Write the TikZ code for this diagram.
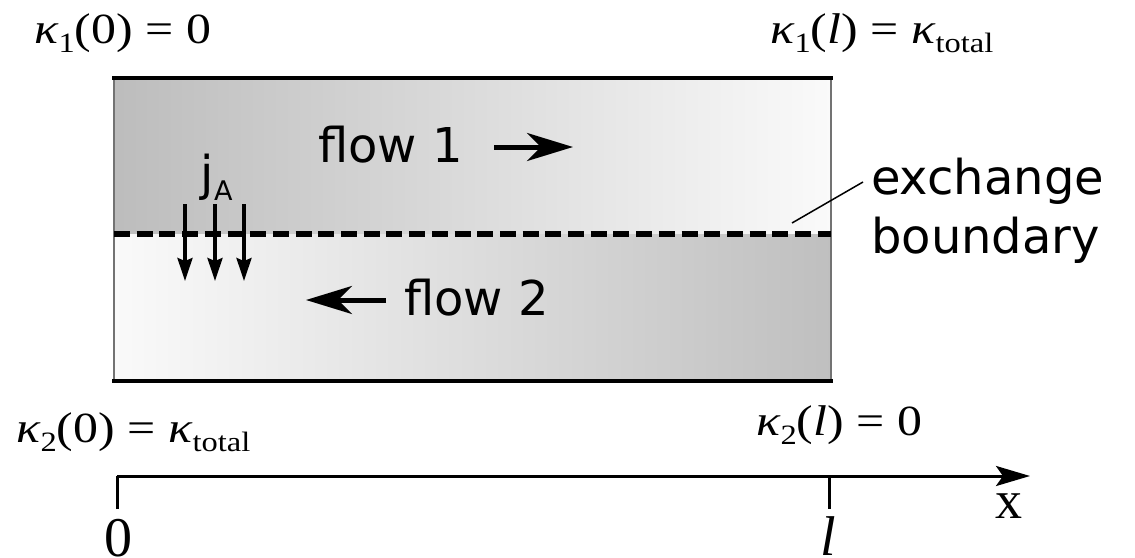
\documentclass[tikz,border=0pt]{standalone}
\usepackage{fontspec}
\setmainfont{DejaVu Sans}
\newfontfamily\tms{Liberation Serif}
\usetikzlibrary{arrows.meta}
\newcommand\msub[1]{\raisebox{-0.22em}{\fontsize{28}{30}\selectfont #1}}
\newcommand\kap{\textit{κ}}
\newcommand\mlab[1]{\scalebox{1.16}[1]{#1}}
\tikzset{
  mathlbl/.style={inner sep=0pt, anchor=base west, font=\tms\fontsize{43}{48}\selectfont},
  sanslbl/.style={inner sep=0pt, anchor=base west, font=\fontsize{48}{56}\selectfont},
  flowarrow/.style={line width=5pt, -{Stealth[length=46pt, width=28pt, inset=14pt]}},
  fluxarrow/.style={line width=3.2pt, -{Stealth[length=23pt, width=15pt, inset=3pt]}},
  axisarrow/.style={line width=3pt, -{Stealth[length=34pt, width=20pt, inset=7pt]}},
}
\begin{document}
\begin{tikzpicture}[x=1pt, y=-1pt]
\useasboundingbox (0,0) rectangle (1135,557);
\clip (0,0) rectangle (1135,557);
% shaded halves
\shade[left color=black!26, right color=black!2] (114,78) rectangle (831,234);
\shade[left color=black!2, right color=black!25] (114,234) rectangle (831,381);
% box sides
\draw[line width=1.6pt, black!55] (114,78) -- (114,381);
\draw[line width=1.6pt, black!55] (831,78) -- (831,381);
\draw[line width=3.5pt] (112,78) -- (833,78);
\draw[line width=3.5pt] (112,381) -- (833,381);
% exchange boundary
\coordinate (bl) at (114,234);
\coordinate (br) at (831,234);
\draw[line width=6.5pt, dash pattern=on 16pt off 6.7pt] (bl) -- (br);
% labels
\node[mathlbl] (k1a) at (34,43) {\mlab{\kap\msub{1}(0) = 0}};
\node[mathlbl] (k1b) at (770,43) {\mlab{\kap\msub{1}(\textit{l}) = \kap\msub{total}}};
\node[mathlbl] (k2a) at (16,442) {\mlab{\kap\msub{2}(0) = \kap\msub{total}}};
\node[mathlbl] (k2b) at (756,435) {\mlab{\kap\msub{2}(\textit{l}) = 0}};
% flows
\node[sanslbl] (f1) at (318,162) {flow 1};
\coordinate (f1s) at (494,147);
\coordinate (f1e) at (573,147);
\draw[flowarrow] (f1s) -- (f1e);
\node[sanslbl] (f2) at (404,315) {flow 2};
\coordinate (f2s) at (386,300);
\coordinate (f2e) at (306,300);
\draw[flowarrow] (f2s) -- (f2e);
% flux
\node[sanslbl] (j) at (200,190) {j};
\node[inner sep=0pt, anchor=base west, font=\fontsize{27}{29}\selectfont] (jA) at (214,200) {A};
\foreach \xx [count=\i] in {185,215,244}{
  \coordinate (ja\i) at (\xx,204);
  \coordinate (jb\i) at (\xx,281);
  \draw[fluxarrow] (ja\i) -- (jb\i);
}
% exchange boundary label
\node[sanslbl] (ex) at (871,194) {exchange};
\node[sanslbl] (bd) at (871,253) {boundary};
\coordinate (lead) at (792,223);
\draw[line width=1.5pt] (lead) -- (863,182);
% axis
\coordinate (ax0) at (117,476);
\coordinate (axl) at (829,476);
\coordinate (axe) at (1030,476);
\draw[line width=3pt] (117,509) -- (ax0);
\draw[axisarrow] (ax0) -- (axe);
\draw[line width=3pt] (axl) -- (829,509);
\node[inner sep=0pt, anchor=north, font=\tms\fontsize{56}{60}\selectfont] (n0) at (118,519) {0};
\node[inner sep=0pt, anchor=north, font=\tms\fontsize{56}{60}\selectfont] (nl) at (828,516) {\textit{l}};
\node[inner sep=0pt, anchor=base, font=\tms\fontsize{54}{60}\selectfont] (nx) at (1009,518) {x};
\end{tikzpicture}
\end{document}
